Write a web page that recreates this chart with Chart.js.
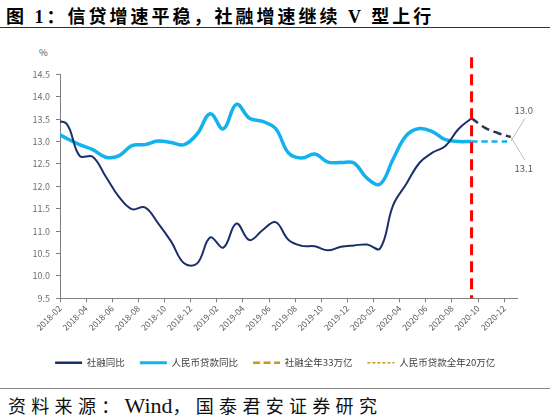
<!DOCTYPE html>
<html>
<head>
<meta charset="utf-8">
<script src="https://cdn.jsdelivr.net/npm/chart.js@4"></script>
<style>
  body { margin: 0; width: 550px; height: 420px; background: #fff; position: relative; overflow: hidden; }
  #title { position: absolute; left: 6px; top: 2px; font: bold 18px "Liberation Serif", "Noto Sans CJK SC"; letter-spacing: 3px; color: #000; white-space: nowrap; }
  #title-rule { position: absolute; left: 0; top: 27px; width: 550px; height: 1px; background: #333; }
  #unit { position: absolute; left: 39px; top: 45px; font: 9.5px "Noto Sans CJK SC"; color: #595959; }
  #box { position: absolute; left: 0; top: 35px; width: 550px; height: 350px; }
  #foot-rule { position: absolute; left: 0; top: 388px; width: 550px; height: 1px; background: #888; }
  #source { position: absolute; left: 8px; top: 392px; font: 18px "Noto Sans CJK SC"; letter-spacing: 5.3px; color: #111; white-space: nowrap; }
  #source .en { font: 22px "Liberation Serif"; letter-spacing: 0; }
</style>
</head>
<body>
<div id="title">图 1：信贷增速平稳，社融增速继续 V 型上行</div>
<div id="title-rule"></div>
<div id="unit">%</div>
<div id="box"><canvas id="credit-chart"></canvas></div>
<div id="foot-rule"></div>
<div id="source">资料来源：<span class="en">Wind</span>，国泰君安证券研究</div>
<script>
// Bulan data
const months = ["2018-01", "2018-02", "2018-03", "2018-04", "2018-05", "2018-06", "2018-07", "2018-08",
  "2018-09", "2018-10", "2018-11", "2018-12", "2019-01", "2019-02", "2019-03", "2019-04", "2019-05",
  "2019-06", "2019-07", "2019-08", "2019-09", "2019-10", "2019-11", "2019-12", "2020-01", "2020-02",
  "2020-03", "2020-04", "2020-05", "2020-06", "2020-07", "2020-08", "2020-09"];

// 社融同比
const tsfGrowth = [13.45, 13.40, 12.68, 12.66, 12.22, 11.77, 11.49, 11.53, 11.18, 10.77, 10.28, 10.28,
  10.86, 10.63, 11.17, 10.80, 11.02, 11.20, 10.80, 10.67, 10.66, 10.57, 10.65, 10.68, 10.70, 10.61,
  11.58, 12.05, 12.52, 12.75, 12.90, 13.28, 13.52];

// 人民币贷款同比
const loanGrowth = [13.23, 13.07, 12.93, 12.82, 12.65, 12.68, 12.91, 12.93, 13.01, 12.98, 12.93, 13.17,
  13.62, 13.28, 13.83, 13.52, 13.45, 13.29, 12.74, 12.63, 12.72, 12.54, 12.53, 12.52, 12.18, 12.05,
  12.61, 13.13, 13.29, 13.22, 13.04, 13.00, 13.00];

// Proyeksi akhir tahun
const forecastMonths = ["2020-09", "2020-10", "2020-11", "2020-12"];
const tsfForecast = [13.52, 13.31, 13.19, 13.1];
const loanForecast = [13.0, 13.0, 13.0, 13.0];

const tickLabels = ["2018-02", "2018-04", "2018-06", "2018-08", "2018-10", "2018-12", "2019-02",
  "2019-04", "2019-06", "2019-08", "2019-10", "2019-12", "2020-02", "2020-04", "2020-06", "2020-08",
  "2020-10", "2020-12"];
const yTicks = [9.5, 14.5, 0.5]; // min, max, step
const markerMonth = "2020-09";

const seriesNames = ["社融同比", "人民币贷款同比", "社融全年33万亿", "人民币贷款全年20万亿"];

// Posisi bulan: 0 = awal 2018-02, titik di tengah bulan
function monthPos(m) {
  const [y, mo] = m.split("-").map(Number);
  return (y - 2018) * 12 + (mo - 2) + 0.5;
}
function toPoints(labels, values) {
  return labels.map((m, i) => ({ x: monthPos(m), y: values[i] }));
}

const navy = "#1b2f6b";
const sky = "#12b2ee";
const gold = "#c49a1a";
const legendStyle = [
  { color: navy, width: 2.5, dash: [] },
  { color: sky, width: 3, dash: [] },
  { color: gold, width: 2.5, dash: [7, 3.5] },
  { color: gold, width: 1.5, dash: [3, 2] }
];
const endLabelOffset = [0, 0, 31, -31];

// Garis merah putus-putus
const markerLine = {
  id: "markerLine",
  afterDatasetsDraw(chart) {
    const { ctx, chartArea, scales } = chart;
    const x = scales.x.getPixelForValue(monthPos(markerMonth));
    ctx.save();
    ctx.strokeStyle = "#ff0000";
    ctx.lineWidth = 3;
    ctx.setLineDash([11, 6]);
    ctx.beginPath();
    ctx.moveTo(x, chartArea.top - 17);
    ctx.lineTo(x, chartArea.bottom);
    ctx.stroke();
    ctx.restore();
  }
};

// Label nilai akhir proyeksi
const endLabels = {
  id: "endLabels",
  afterDatasetsDraw(chart) {
    const { ctx } = chart;
    ctx.save();
    ctx.font = "9.5px 'Noto Sans CJK SC'";
    ctx.fillStyle = "#595959";
    ctx.textAlign = "center";
    ctx.textBaseline = "middle";
    [2, 3].forEach((di) => {
      const meta = chart.getDatasetMeta(di);
      const pt = meta.data[meta.data.length - 1];
      const val = chart.data.datasets[di].data[meta.data.length - 1].y;
      const off = endLabelOffset[di];
      const sign = off > 0 ? 1 : -1;
      ctx.strokeStyle = "#bfbfbf";
      ctx.lineWidth = 1;
      ctx.beginPath();
      ctx.moveTo(pt.x, pt.y);
      ctx.lineTo(pt.x + 14, pt.y + off - sign * 8);
      ctx.stroke();
      ctx.fillText(val.toFixed(1), pt.x + 13, pt.y + off);
    });
    ctx.restore();
  }
};

new Chart(document.getElementById("credit-chart"), {
  type: "line",
  data: {
    datasets: [
      { label: seriesNames[0], data: toPoints(months, tsfGrowth), borderColor: navy, borderWidth: 2 },
      { label: seriesNames[1], data: toPoints(months, loanGrowth), borderColor: sky, borderWidth: 3.5 },
      { label: seriesNames[2], data: toPoints(forecastMonths, tsfForecast), borderColor: "#26364f", borderWidth: 2.5, borderDash: [8, 5] },
      { label: seriesNames[3], data: toPoints(forecastMonths, loanForecast), borderColor: sky, borderWidth: 2.5, borderDash: [6, 4] }
    ]
  },
  options: {
    responsive: true,
    maintainAspectRatio: false,
    animation: false,
    layout: { padding: { left: 33, right: 32.7, top: 39.3, bottom: 7.4 } },
    elements: {
      point: { radius: 0 },
      line: { tension: 0.4, fill: false, capBezierPoints: false }
    },
    scales: {
      x: {
        type: "linear",
        min: 0,
        max: 35,
        afterFit: (s) => { s.height = 44.8; },
        grid: { drawOnChartArea: false, drawTicks: true, tickLength: 4, color: "#7f7f7f" },
        border: { color: "#7f7f7f" },
        ticks: {
          stepSize: 2,
          includeBounds: false,
          autoSkip: false,
          minRotation: 45,
          maxRotation: 45,
          padding: 1,
          color: "#595959",
          font: { family: "Noto Sans CJK SC", size: 8.5 },
          callback: (v) => tickLabels[v / 2]
        }
      },
      y: {
        min: yTicks[0],
        max: yTicks[1],
        afterFit: (s) => { s.width = 27; },
        grid: { drawOnChartArea: false, drawTicks: true, tickLength: 4, color: "#7f7f7f" },
        border: { color: "#7f7f7f" },
        ticks: {
          stepSize: yTicks[2],
          padding: 6,
          color: "#6e6e6e",
          font: { family: "Noto Sans CJK SC", size: 9 },
          callback: (v) => v.toFixed(1)
        }
      }
    },
    plugins: {
      tooltip: { enabled: false },
      legend: {
        position: "bottom",
        labels: {
          usePointStyle: true,
          pointStyle: "line",
          pointStyleWidth: 27,
          padding: 15,
          color: "#404040",
          font: { family: "Noto Sans CJK SC", size: 9.5 },
          generateLabels: (chart) => {
            const items = Chart.defaults.plugins.legend.labels.generateLabels(chart);
            items.forEach((it, i) => {
              it.strokeStyle = legendStyle[i].color;
              it.fillStyle = legendStyle[i].color;
              it.lineWidth = legendStyle[i].width;
              it.lineDash = legendStyle[i].dash;
              it.pointStyle = "line";
            });
            return items;
          }
        }
      }
    }
  },
  plugins: [markerLine, endLabels]
});
</script>
</body>
</html>
